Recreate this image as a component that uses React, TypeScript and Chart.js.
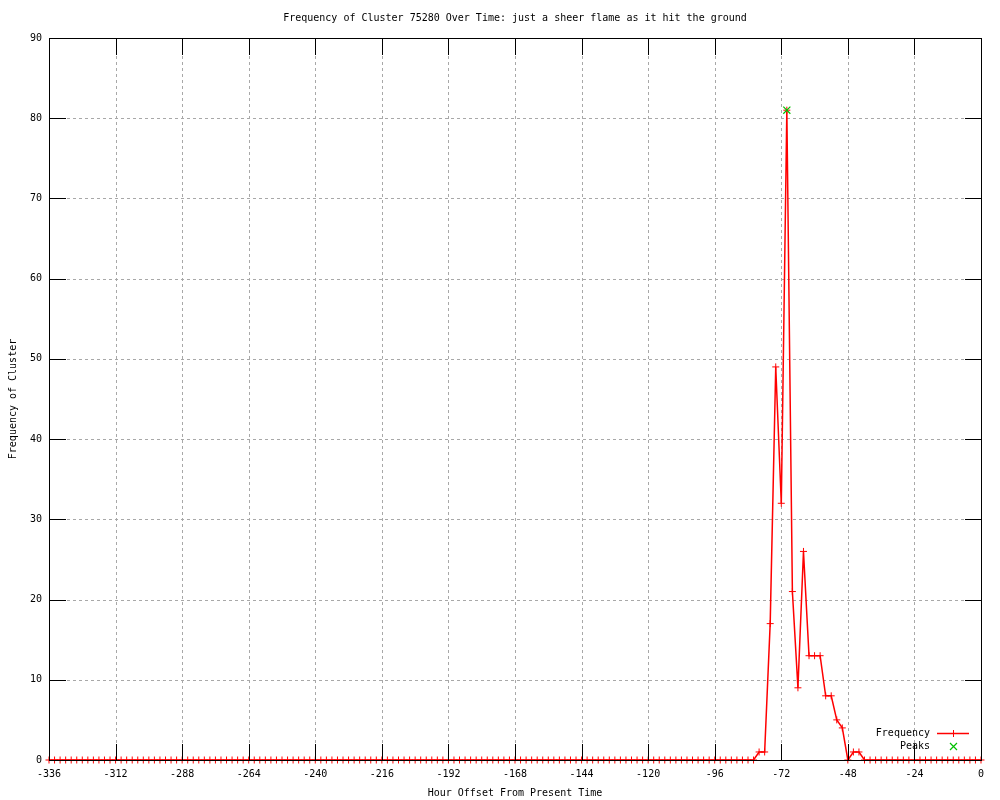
import React, { useEffect, useRef } from "react";
import { Chart, registerables } from "chart.js";

Chart.register(...registerables);

const TITLE = "Frequency of Cluster 75280 Over Time: just a sheer flame as it hit the ground";
const X_TITLE = "Hour Offset From Present Time";
const Y_TITLE = "Frequency of Cluster";
const SERIES_LABELS = ["Frequency", "Peaks"];

const hours = [
  -336, -334, -332, -330, -328, -326, -324, -322, -320, -318, -316, -314,
  -312, -310, -308, -306, -304, -302, -300, -298, -296, -294, -292, -290,
  -288, -286, -284, -282, -280, -278, -276, -274, -272, -270, -268, -266,
  -264, -262, -260, -258, -256, -254, -252, -250, -248, -246, -244, -242,
  -240, -238, -236, -234, -232, -230, -228, -226, -224, -222, -220, -218,
  -216, -214, -212, -210, -208, -206, -204, -202, -200, -198, -196, -194,
  -192, -190, -188, -186, -184, -182, -180, -178, -176, -174, -172, -170,
  -168, -166, -164, -162, -160, -158, -156, -154, -152, -150, -148, -146,
  -144, -142, -140, -138, -136, -134, -132, -130, -128, -126, -124, -122,
  -120, -118, -116, -114, -112, -110, -108, -106, -104, -102, -100, -98,
  -96, -94, -92, -90, -88, -86, -84, -82, -80, -78, -76, -74,
  -72, -70, -68, -66, -64, -62, -60, -58, -56, -54, -52, -50,
  -48, -46, -44, -42, -40, -38, -36, -34, -32, -30, -28, -26,
  -24, -22, -20, -18, -16, -14, -12, -10, -8, -6, -4, -2,
  0,
];

const frequency = [
  0, 0, 0, 0, 0, 0, 0, 0, 0, 0, 0, 0,
  0, 0, 0, 0, 0, 0, 0, 0, 0, 0, 0, 0,
  0, 0, 0, 0, 0, 0, 0, 0, 0, 0, 0, 0,
  0, 0, 0, 0, 0, 0, 0, 0, 0, 0, 0, 0,
  0, 0, 0, 0, 0, 0, 0, 0, 0, 0, 0, 0,
  0, 0, 0, 0, 0, 0, 0, 0, 0, 0, 0, 0,
  0, 0, 0, 0, 0, 0, 0, 0, 0, 0, 0, 0,
  0, 0, 0, 0, 0, 0, 0, 0, 0, 0, 0, 0,
  0, 0, 0, 0, 0, 0, 0, 0, 0, 0, 0, 0,
  0, 0, 0, 0, 0, 0, 0, 0, 0, 0, 0, 0,
  0, 0, 0, 0, 0, 0, 0, 0, 1, 1, 17, 49,
  32, 81, 21, 9, 26, 13, 13, 13, 8, 8, 5, 4,
  0, 1, 1, 0, 0, 0, 0, 0, 0, 0, 0, 0,
  0, 0, 0, 0, 0, 0, 0, 0, 0, 0, 0, 0,
  0,
];

const peakHours = [-70];
const peakValues = [81];

const xTicks = [-336, -312, -288, -264, -240, -216, -192, -168, -144, -120, -96, -72, -48, -24, 0];
const yTicks = [0, 10, 20, 30, 40, 50, 60, 70, 80, 90];

const FONT_FAMILY = "'DejaVu Sans Mono', 'Liberation Mono', monospace";
const RED = "#ff0000";
const GREEN = "#00c000";

const gnuplotFrame = {
  id: "gnuplotFrame",
  beforeDatasetsDraw(chart: any) {
    const { ctx, chartArea: a, scales } = chart;
    const xs = scales.x;
    const ys = scales.y;
    ctx.save();
    ctx.strokeStyle = "#a8a8a8";
    ctx.lineWidth = 1;
    ctx.setLineDash([3, 3]);
    xTicks.forEach((v) => {
      if (v === xTicks[0] || v === xTicks[xTicks.length - 1]) return;
      const px = Math.round(xs.getPixelForValue(v)) + 0.5;
      ctx.beginPath();
      ctx.moveTo(px, a.top);
      ctx.lineTo(px, a.bottom);
      ctx.stroke();
    });
    yTicks.forEach((v) => {
      if (v === yTicks[0] || v === yTicks[yTicks.length - 1]) return;
      const py = Math.round(ys.getPixelForValue(v)) + 0.5;
      ctx.beginPath();
      ctx.moveTo(a.left, py);
      ctx.lineTo(a.right, py);
      ctx.stroke();
    });
    ctx.restore();
  },
  afterDatasetsDraw(chart: any) {
    const { ctx, chartArea: a, scales } = chart;
    const xs = scales.x;
    const ys = scales.y;
    const tick = 16;
    ctx.save();
    ctx.setLineDash([]);
    ctx.strokeStyle = "#000000";
    ctx.lineWidth = 1;
    ctx.strokeRect(a.left + 0.5, a.top + 0.5, a.right - a.left, a.bottom - a.top);
    ctx.beginPath();
    xTicks.forEach((v) => {
      const px = Math.round(xs.getPixelForValue(v)) + 0.5;
      ctx.moveTo(px, a.bottom + 0.5);
      ctx.lineTo(px, a.bottom - tick);
      ctx.moveTo(px, a.top + 0.5);
      ctx.lineTo(px, a.top + tick + 1);
    });
    yTicks.forEach((v) => {
      const py = Math.round(ys.getPixelForValue(v)) + 0.5;
      ctx.moveTo(a.left + 0.5, py);
      ctx.lineTo(a.left + tick + 1, py);
      ctx.moveTo(a.right + 0.5, py);
      ctx.lineTo(a.right - tick, py);
    });
    ctx.stroke();
    ctx.restore();

    // legend (gnuplot style, inside bottom right)
    const ds = chart.data.datasets;
    const textRight = a.right - 51;
    const sampleL = a.right - 44;
    const sampleR = a.right - 12;
    const sampleC = a.right - 28;
    const y1 = a.bottom - 27;
    const y2 = a.bottom - 14;

    ctx.save();
    ctx.font = "10px " + FONT_FAMILY;
    ctx.fillStyle = "#000000";
    ctx.textAlign = "right";
    ctx.textBaseline = "middle";
    ctx.fillText(ds[0].label, textRight, y1);
    ctx.fillText(ds[1].label, textRight, y2);
    ctx.restore();

    ctx.save();
    ctx.setLineDash([]);
    ctx.lineWidth = 1.5;
    ctx.strokeStyle = RED;
    ctx.beginPath();
    ctx.moveTo(sampleL, y1 + 0.5);
    ctx.lineTo(sampleR, y1 + 0.5);
    ctx.stroke();
    ctx.lineWidth = 1;
    ctx.beginPath();
    ctx.moveTo(sampleC + 0.5, y1 - 3);
    ctx.lineTo(sampleC + 0.5, y1 + 4);
    ctx.stroke();
    ctx.restore();

    ctx.save();
    ctx.setLineDash([]);
    ctx.lineWidth = 1.2;
    ctx.strokeStyle = GREEN;
    ctx.beginPath();
    ctx.moveTo(sampleC - 3, y2 - 3);
    ctx.lineTo(sampleC + 4, y2 + 4);
    ctx.moveTo(sampleC + 4, y2 - 3);
    ctx.lineTo(sampleC - 3, y2 + 4);
    ctx.stroke();
    ctx.restore();
  },
};

export default function App() {
  const canvasRef = useRef<HTMLCanvasElement | null>(null);

  useEffect(() => {
    const canvas = canvasRef.current;
    if (!canvas) return;
    const font = { family: FONT_FAMILY, size: 10 };
    const chart = new Chart(canvas, {
      type: "line",
      data: {
        datasets: [
          {
            label: SERIES_LABELS[0],
            data: hours.map((h, i) => ({ x: h, y: frequency[i] })),
            borderColor: RED,
            backgroundColor: RED,
            borderWidth: 1.5,
            pointStyle: "cross",
            pointRadius: 3.5,
            pointBorderWidth: 1,
            pointBorderColor: RED,
            pointBackgroundColor: RED,
            tension: 0,
            clip: false,
            order: 1,
          },
          {
            label: SERIES_LABELS[1],
            data: peakHours.map((h, i) => ({ x: h, y: peakValues[i] })),
            showLine: false,
            borderColor: GREEN,
            backgroundColor: GREEN,
            pointStyle: "crossRot",
            pointRadius: 5,
            pointBorderWidth: 1.2,
            pointBorderColor: GREEN,
            clip: false,
            order: 0,
          },
        ],
      },
      options: {
        animation: false,
        responsive: false,
        devicePixelRatio: 1,
        events: [],
        layout: { padding: { top: 0, right: 19, bottom: 0, left: 0 } },
        plugins: {
          legend: { display: false },
          tooltip: { enabled: false },
          title: {
            display: true,
            text: TITLE,
            fullSize: false,
            color: "#000",
            font: { family: FONT_FAMILY, size: 10, weight: "normal" },
            padding: { top: 12, bottom: 14 },
          },
        },
        scales: {
          x: {
            type: "linear",
            min: -336,
            max: 0,
            afterBuildTicks: (s: any) => {
              s.ticks = xTicks.map((v) => ({ value: v }));
            },
            afterFit: (s: any) => {
              s.height = 40;
            },
            grid: { display: false, drawTicks: false },
            border: { display: false },
            ticks: { font, color: "#000", padding: 8, maxRotation: 0, minRotation: 0, autoSkip: false },
            title: { display: true, text: X_TITLE, font, color: "#000", padding: { top: 0, bottom: 1 } },
          },
          y: {
            type: "linear",
            min: 0,
            max: 90,
            afterBuildTicks: (s: any) => {
              s.ticks = yTicks.map((v) => ({ value: v }));
            },
            afterFit: (s: any) => {
              s.width = 49;
            },
            grid: { display: false, drawTicks: false },
            border: { display: false },
            ticks: { font, color: "#000", padding: 7, autoSkip: false },
            title: { display: true, text: Y_TITLE, font, color: "#000", padding: { top: 7, bottom: 0 } },
          },
        },
      },
      plugins: [gnuplotFrame],
    } as any);
    return () => chart.destroy();
  }, []);

  return (
    <div style={{ position: "absolute", left: 0, top: 0, width: 1000, height: 800, background: "#fff" }}>
      <canvas ref={canvasRef} width={1000} height={800} style={{ display: "block", width: 1000, height: 800 }} />
    </div>
  );
}
